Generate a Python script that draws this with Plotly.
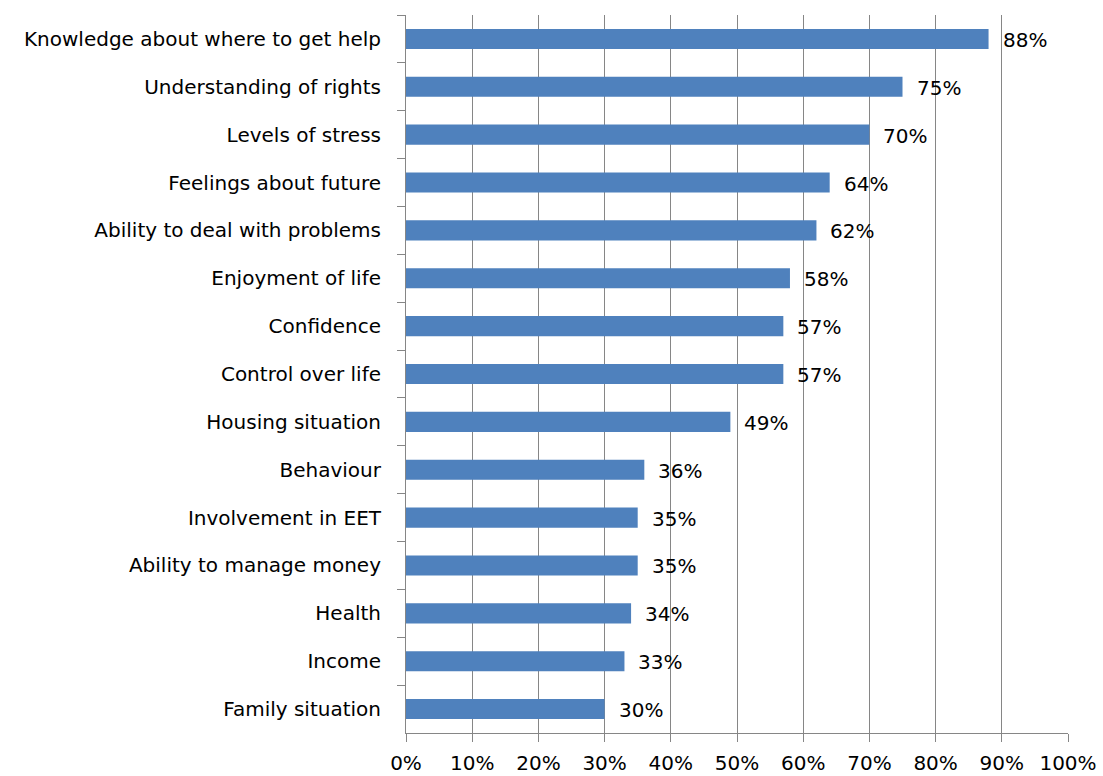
import plotly.graph_objects as go

categories = [
    "Knowledge about where to get help",
    "Understanding of rights",
    "Levels of stress",
    "Feelings about future",
    "Ability to deal with problems",
    "Enjoyment of life",
    "Confidence",
    "Control over life",
    "Housing situation",
    "Behaviour",
    "Involvement in EET",
    "Ability to manage money",
    "Health",
    "Income",
    "Family situation",
]
values = [88, 75, 70, 64, 62, 58, 57, 57, 49, 36, 35, 35, 34, 33, 30]
x_ticks = list(range(0, 101, 10))
x_tick_labels = [f"{t}%" for t in x_ticks]

FONT = "DejaVu Sans"
SIZE = 20
GRID = "#868686"

fig = go.Figure(
    go.Bar(
        x=values,
        y=categories,
        orientation="h",
        marker=dict(color="#4F81BD", line=dict(width=0)),
        width=0.42,
        hoverinfo="x+y",
    )
)

# value labels just to the right of each bar
for cat, v in zip(categories, values):
    fig.add_annotation(
        x=v,
        y=cat,
        text=f"{v}%",
        showarrow=False,
        xanchor="left",
        yanchor="middle",
        xshift=12,
        yshift=-1,
        font=dict(family=FONT, size=SIZE, color="#000000"),
    )

fig.update_layout(
    width=1103,
    height=776,
    margin=dict(l=406, r=35, t=15, b=43),
    plot_bgcolor="white",
    paper_bgcolor="white",
    showlegend=False,
    font=dict(family=FONT, size=SIZE, color="#000000"),
)

fig.update_xaxes(
    range=[0, 100],
    tickvals=x_ticks,
    ticktext=x_tick_labels,
    showgrid=True,
    gridcolor=GRID,
    gridwidth=1,
    showline=True,
    linecolor=GRID,
    linewidth=1,
    ticks="outside",
    ticklen=8,
    tickcolor=GRID,
    tickfont=dict(family=FONT, size=SIZE),
    ticklabelstandoff=4,
    zeroline=False,
    automargin=False,
)

fig.update_yaxes(
    categoryorder="array",
    categoryarray=categories,
    autorange="reversed",
    showline=True,
    linecolor=GRID,
    linewidth=1,
    ticks="outside",
    tickson="boundaries",
    ticklen=8,
    tickcolor=GRID,
    tickfont=dict(family=FONT, size=SIZE),
    ticklabelstandoff=20,
    showgrid=False,
    automargin=False,
)

fig.write_html("out.html")
